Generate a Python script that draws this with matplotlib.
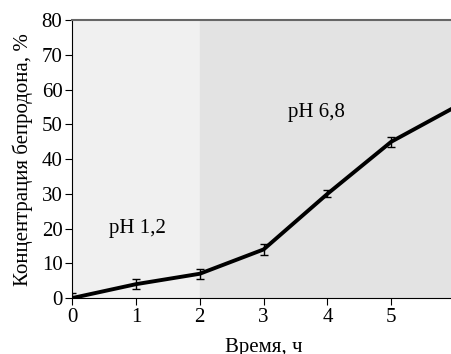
import matplotlib.pyplot as plt

plt.rcParams['font.family'] = ['Liberation Serif', 'DejaVu Serif']

time_h = [0, 1, 2, 3, 4, 5, 6]
conc = [0, 4, 7, 14, 30, 45, 55]
err = [1.5, 1.5, 1.5, 1.5, 1.0, 1.5, 1.5]

fig = plt.figure(figsize=(4.51, 3.54), dpi=100)
ax = fig.add_axes([0.16, 0.158, 0.849, 0.785])

ax.axvspan(0, 2, color='#f0f0f0', zorder=0)
ax.axvspan(2, 6, color='#e3e3e3', zorder=0)

ax.errorbar(time_h, conc, yerr=err, color='black', lw=2.8, capsize=3,
            elinewidth=1, capthick=1, zorder=3)

ax.text(1.03, 20, 'pH 1,2', fontsize=15, ha='center', va='center')
ax.text(3.83, 53.5, 'pH 6,8', fontsize=15, ha='center', va='center')

ax.set_xlim(0, 6)
ax.set_ylim(0, 80)
ax.set_xticks(range(0, 7))
ax.set_yticks(range(0, 81, 10))
ax.tick_params(labelsize=15, direction='out', length=5, pad=2)
ax.set_xlabel('Время, ч', fontsize=15, labelpad=8)
ax.set_ylabel('Концентрация бепродона, %', fontsize=15, labelpad=6)

ax.spines['right'].set_visible(False)
ax.spines['top'].set_color('#666666')
ax.spines['top'].set_linewidth(1.5)

fig.savefig('out.png', dpi=100)
